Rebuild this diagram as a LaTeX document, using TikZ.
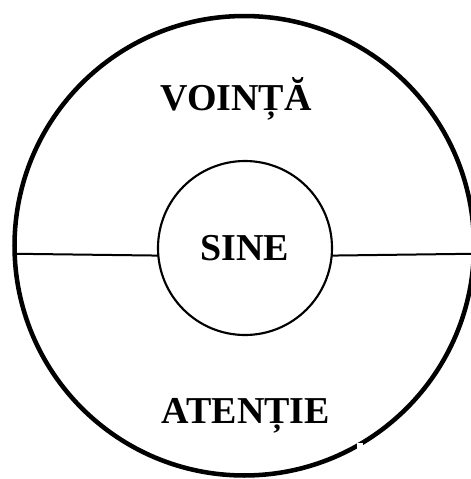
\documentclass[tikz,border=0pt]{standalone}
\usepackage{fontspec}
\setmainfont{Liberation Serif}

\begin{document}
\begin{tikzpicture}[
    x=0.75pt, y=-0.75pt,
    ring/.style={circle, draw, outer sep=0pt, inner sep=0pt},
    word/.style={font=\fontsize{28.5}{30}\selectfont\bfseries, anchor=base},
]
\useasboundingbox (0, 0) rectangle (471, 479);

% === Outer circle and inner circle ===
\node[ring, line width=3.4pt, minimum size=344.6pt] (outer) at (244.25, 245.75) {};
\node[ring, line width=1.6pt, minimum size=130.5pt, word, anchor=center]
    (sine) at (245, 248) {SINE};

% Dividing line (left and right halves)
\draw[line width=1.5pt] (outer.182.56) -- (sine.185.3);
\draw[line width=1.5pt] (sine.-5.3) -- (outer.-2.56);

% === Labels ===
\node[word] (vointa) at (236, 110) {VOINȚĂ};
\node[word] (atentie) at (246, 423) {ATENȚIE};

% small gap in the rim
\fill[white] (357, 443) rectangle (363, 449);

\end{tikzpicture}
\end{document}
